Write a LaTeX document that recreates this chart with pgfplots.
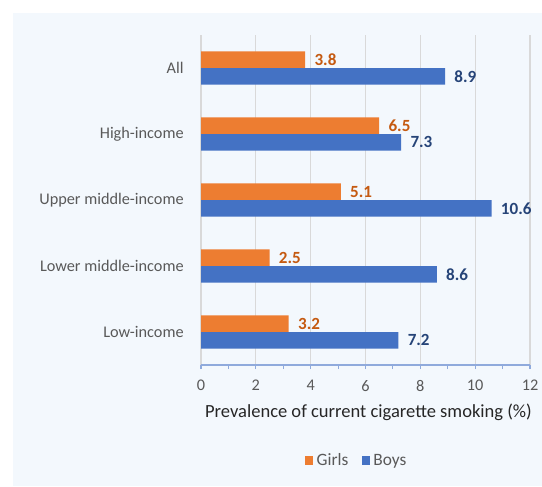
\documentclass[border=0pt]{standalone}
\usepackage{fontspec}
\setmainfont{Carlito}
\usepackage{pgfplots}
\pgfplotsset{compat=1.18}
\definecolor{panel}{HTML}{F3F8FD}
\definecolor{girls}{HTML}{ED7D31}
\definecolor{boys}{HTML}{4472C4}
\definecolor{girlslab}{HTML}{C55A11}
\definecolor{boyslab}{HTML}{264478}
\definecolor{gridc}{HTML}{D9D9D9}
\definecolor{axisc}{HTML}{8FAADC}
\definecolor{tickc}{HTML}{595959}
\begin{document}
\begin{tikzpicture}
\path[use as bounding box,fill=white] (0,0) rectangle (406.5pt,364.5pt);
\fill[panel] (9.75pt,0) rectangle (406.5pt,354.75pt);
\begin{axis}[
  at={(150.75pt,90.75pt)}, anchor=south west,
  scale only axis, width=246.75pt, height=247.5pt,
  xbar, bar width=0.25,
  xmin=0, xmax=12, ymin=-0.5, ymax=4.5, y dir=reverse,
  xtick={0,2,...,12}, minor xtick={1,3,...,11},
  ytick={0,1,2,3,4},
  yticklabels={All,High-income,Upper middle-income,Lower middle-income,Low-income},
  axis x line*=bottom, axis y line*=left,
  x axis line style={draw=axisc, line width=0.8pt, -},
  y axis line style={draw=none},
  xmajorgrids, major grid style={draw=gridc, line width=0.8pt},
  xtick style={draw=axisc, line width=0.8pt},
  minor tick style={draw=axisc, line width=0.8pt},
  major tick length=3pt, minor tick length=3pt,
  tick align=outside,
  ytick style={draw=none},
  /pgf/number format/assume math mode=true,
  ticklabel style={font=\fontsize{12.2}{14}\selectfont, text=tickc},
  xticklabel style={yshift=-5pt},
  yticklabel style={xshift=-6.5pt},
  xlabel={Prevalence of current cigarette smoking (\%)},
  xlabel style={at={(0.509,-0.142)}, anchor=center, font=\fontsize{13.9}{16}\selectfont, text=black!85},
  nodes near coords,
  nodes near coords align={horizontal},
  every node near coord/.append style={font=\bfseries\fontsize{12.8}{14}\selectfont, anchor=west, xshift=3.5pt},
  legend style={at={(0.474,-0.29)}, anchor=center, draw=none, fill=none,
    legend columns=2, font=\fontsize{13}{15}\selectfont, text=tickc,
    /tikz/every odd column/.append style={column sep=0.5pt},
    /tikz/every even column/.append style={column sep=8pt}},
  legend image code/.code={\fill[#1] (0pt,-3.4pt) rectangle (6.3pt,3.4pt);},
  clip=false,
]
\addplot[fill=girls, draw=none, bar shift=-0.127,
  every node near coord/.append style={text=girlslab}]
  coordinates {(3.8,0) (6.5,1) (5.1,2) (2.5,3) (3.2,4)};
\addplot[fill=boys, draw=none, bar shift=0.127,
  every node near coord/.append style={text=boyslab}]
  coordinates {(8.9,0) (7.3,1) (10.6,2) (8.6,3) (7.2,4)};
\legend{Girls,Boys}
\end{axis}
\end{tikzpicture}
\end{document}
